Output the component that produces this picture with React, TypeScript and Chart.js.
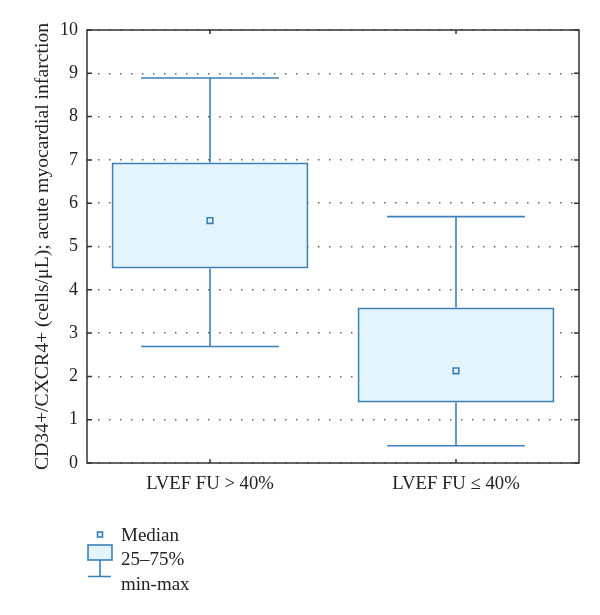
import React, { useEffect, useRef } from "react";
import { Chart, registerables } from "chart.js";

Chart.register(...registerables);

const categories = ["LVEF FU > 40%", "LVEF FU \u2264 40%"];
const q1Values = [4.49, 1.4];
const q3Values = [6.94, 3.59];
const medianValues = [5.6, 2.13];
const minValues = [2.69, 0.4];
const maxValues = [8.89, 5.69];
const yTitle = "CD34+/CXCR4+ (cells/\u03bcL); acute myocardial infarction";
const legendLabels = ["Median", "25\u201375%", "min-max"];

const STROKE = "#3b80b7";
const FILL = "#e3f4fc";
const FONT = "'Liberation Serif', 'Times New Roman', serif";
const TEXT = "#222";

const boxPlugin = {
  id: "boxExtras",
  beforeDatasetsDraw(chart: any) {
    const { ctx, scales } = chart;
    const x = scales.x;
    const y = scales.y;
    const meta = chart.getDatasetMeta(0);
    ctx.save();
    ctx.strokeStyle = STROKE;
    ctx.lineWidth = 1.6;
    meta.data.forEach((bar: any, i: number) => {
      const cx = x.getPixelForValue(i);
      const half = (bar.width / 2) * 0.7;
      const yMax = y.getPixelForValue(maxValues[i]);
      const yMin = y.getPixelForValue(minValues[i]);
      const yQ3 = y.getPixelForValue(q3Values[i]);
      const yQ1 = y.getPixelForValue(q1Values[i]);
      ctx.beginPath();
      ctx.moveTo(cx, yQ3);
      ctx.lineTo(cx, yMax);
      ctx.moveTo(cx - half, yMax);
      ctx.lineTo(cx + half, yMax);
      ctx.moveTo(cx, yQ1);
      ctx.lineTo(cx, yMin);
      ctx.moveTo(cx - half, yMin);
      ctx.lineTo(cx + half, yMin);
      ctx.stroke();
    });
    ctx.restore();
  },
  afterDraw(chart: any) {
    const { ctx, chartArea, scales } = chart;
    const { left, right, top, bottom } = chartArea;
    const x = scales.x;
    const y = scales.y;
    ctx.save();
    // frame
    ctx.strokeStyle = "#333";
    ctx.lineWidth = 1.5;
    ctx.strokeRect(left, top, right - left, bottom - top);
    // inward ticks
    ctx.beginPath();
    y.ticks.forEach((t: any) => {
      const py = y.getPixelForValue(t.value);
      ctx.moveTo(left, py);
      ctx.lineTo(left + 5, py);
      ctx.moveTo(right - 5, py);
      ctx.lineTo(right, py);
    });
    categories.forEach((_, i) => {
      const px = x.getPixelForValue(i);
      ctx.moveTo(px, top);
      ctx.lineTo(px, top + 4);
      ctx.moveTo(px, bottom - 4);
      ctx.lineTo(px, bottom);
    });
    ctx.stroke();

    // legend
    const lx = 80;
    const lw = 24;
    ctx.strokeStyle = STROKE;
    ctx.lineWidth = 1.6;
    ctx.fillStyle = FILL;
    ctx.fillRect(lx + 9.5, 524, 5, 5);
    ctx.strokeRect(lx + 9.5, 524, 5, 5);
    ctx.fillRect(lx, 537, lw, 15);
    ctx.strokeRect(lx, 537, lw, 15);
    ctx.beginPath();
    ctx.moveTo(lx + lw / 2, 552);
    ctx.lineTo(lx + lw / 2, 568.5);
    ctx.moveTo(lx, 568.5);
    ctx.lineTo(lx + lw - 1, 568.5);
    ctx.stroke();

    ctx.fillStyle = TEXT;
    ctx.font = `19px ${FONT}`;
    ctx.textBaseline = "alphabetic";
    ctx.textAlign = "left";
    ctx.fillText(legendLabels[0], 113, 532.5);
    ctx.fillText(legendLabels[1], 113, 557);
    ctx.fillText(legendLabels[2], 113, 582);
    ctx.restore();
  },
};

export default function App() {
  const ref = useRef<HTMLCanvasElement | null>(null);
  useEffect(() => {
    if (!ref.current) return;
    const chart = new Chart(ref.current, {
      type: "bar",
      data: {
        labels: categories,
        datasets: [
          {
            type: "bar",
            label: "25\u201375%",
            data: q1Values.map((v, i) => [v, q3Values[i]]),
            backgroundColor: FILL,
            borderColor: STROKE,
            borderWidth: 2,
            borderSkipped: false,
            categoryPercentage: 0.8,
            barPercentage: 1,
            order: 2,
          } as any,
          {
            type: "line",
            label: "Median",
            data: medianValues,
            showLine: false,
            pointStyle: "rect",
            pointRadius: 4,
            pointBorderWidth: 1.6,
            pointBackgroundColor: FILL,
            pointBorderColor: STROKE,
            order: 1,
          } as any,
        ],
      },
      options: {
        animation: false,
        responsive: false,
        events: [],
        layout: { padding: { top: 22, right: 21, left: 0, bottom: 0 } },
        plugins: {
          legend: { display: false },
          tooltip: { enabled: false },
        },
        scales: {
          x: {
            type: "category",
            offset: true,
            grid: { display: false, drawTicks: false },
            border: { display: false },
            ticks: {
              color: TEXT,
              font: { family: FONT, size: 18.7 },
              padding: 10,
            },
            afterFit(scale: any) {
              scale.height = 152;
            },
          },
          y: {
            min: 0,
            max: 10,
            grid: {
              display: true,
              drawTicks: false,
              color: "#666",
              lineWidth: 1.5,
            },
            border: { display: false, dash: [1.5, 9.5] },
            ticks: {
              stepSize: 1,
              color: TEXT,
              font: { family: FONT, size: 18 },
              padding: 9,
            },
            title: {
              display: true,
              text: yTitle,
              color: TEXT,
              font: { family: FONT, size: 19.7 },
              padding: { top: 23, bottom: 0 },
            },
            afterFit(scale: any) {
              scale.width = 79;
            },
          },
        },
      } as any,
      plugins: [boxPlugin],
    });
    return () => chart.destroy();
  }, []);
  return <canvas ref={ref} width={592} height={607} style={{ display: "block" }} />;
}
